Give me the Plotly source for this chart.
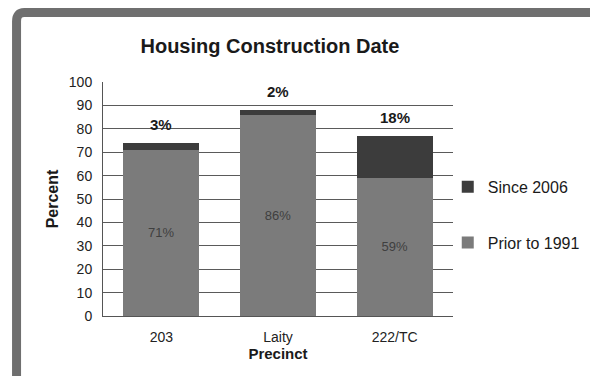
import plotly.graph_objects as go

# --------------------------------------------------
# Data
# --------------------------------------------------
precincts = ["203", "Laity", "222/TC"]
prior_to_1991 = [71, 86, 59]
since_2006 = [3, 2, 18]

prior_labels = [f"{v}%" for v in prior_to_1991]
since_labels = [f"{v}%" for v in since_2006]

PRIOR_COLOR = "#7b7b7b"
SINCE_COLOR = "#3c3c3c"
FONT = "Liberation Sans"

fig = go.Figure()

fig.add_trace(
    go.Bar(
        x=precincts,
        y=prior_to_1991,
        name="Prior to 1991",
        legendgroup="prior",
        legendrank=2,
        marker=dict(color=PRIOR_COLOR, line=dict(width=0)),
        text=prior_labels,
        textposition="inside",
        insidetextanchor="middle",
        textfont=dict(family=FONT, size=13, color="#3f3f3f"),
    )
)

fig.add_trace(
    go.Bar(
        x=precincts,
        y=since_2006,
        name="Since 2006",
        legendgroup="since",
        legendrank=1,
        marker=dict(color=SINCE_COLOR, line=dict(width=0)),
        textposition="none",
    )
)

# Labels for the "Since 2006" share, sitting above each bar
# (category index used for x so "203" is not read as a number)
totals = [a + b for a, b in zip(prior_to_1991, since_2006)]
for i, (tot, lab) in enumerate(zip(totals, since_labels)):
    fig.add_annotation(
        x=i, y=tot, text=f"<b>{lab}</b>",
        showarrow=False, yanchor="bottom", yshift=8,
        font=dict(family=FONT, size=15, color="#1a1a1a"),
    )

# Grey frame around the chart (open at the bottom, as in the picture)
fig.add_shape(
    type="path",
    xref="paper", yref="paper",
    path="M -0.247,-0.3 L -0.247,1.26 Q -0.247,1.297 -0.225,1.297 "
         "L 1.406,1.297 L 1.406,-0.3",
    line=dict(color="#6f6f6f", width=9),
    layer="below",
)

# the page adds an 8px body margin, so margins are trimmed to match
fig.update_layout(
    barmode="stack",
    bargap=0.35,
    width=598,
    height=376,
    margin=dict(l=95, r=153, t=74, b=68),
    paper_bgcolor="white",
    plot_bgcolor="white",
    font=dict(family=FONT, size=12, color="#222222"),
    title=dict(
        text="<b>Housing Construction Date</b>",
        x=0.438, xanchor="center",
        y=0.90, yanchor="middle",
        font=dict(family=FONT, size=20, color="#1a1a1a"),
    ),
    xaxis=dict(
        type="category",
        range=[-0.5, 2.5],
        title=dict(text="<b>Precinct</b>", standoff=0,
                   font=dict(family=FONT, size=15, color="#1a1a1a")),
        showline=True, linecolor="#555555", linewidth=1,
        ticks="", ticklabelstandoff=8,
        tickfont=dict(family=FONT, size=14, color="#222222"),
    ),
    yaxis=dict(
        title=dict(text="<b>Percent</b>", standoff=6,
                   font=dict(family=FONT, size=16, color="#1a1a1a")),
        range=[0, 100],
        dtick=10,
        showgrid=True, gridcolor="#5a5a5a", gridwidth=1,
        showline=True, linecolor="#555555", linewidth=1,
        ticks="", ticklen=0, ticklabelstandoff=7,
        tickfont=dict(family=FONT, size=14, color="#222222"),
        zeroline=False,
    ),
    legend=dict(
        x=0.985, y=0.625, xanchor="left", yanchor="top",
        traceorder="grouped",
        tracegroupgap=32,
        font=dict(family=FONT, size=16, color="#1a1a1a"),
        bgcolor="rgba(0,0,0,0)",
    ),
)

fig.write_html("out.html")
